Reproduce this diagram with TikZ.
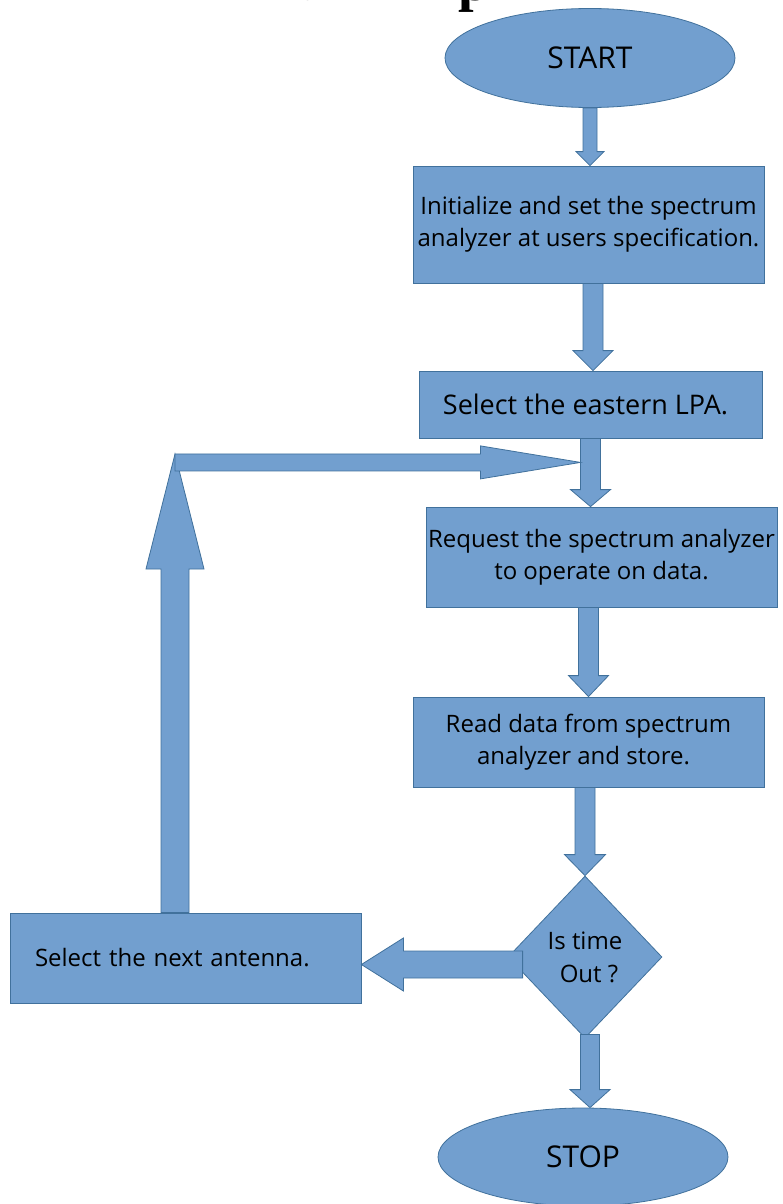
\documentclass[tikz,border=0pt]{standalone}
\usepackage{fontspec}
\setmainfont{Open Sans}
\newfontfamily\headfont{Liberation Serif}
\usepackage{tikz}
\usetikzlibrary{shapes.geometric, calc}
\definecolor{flowFill}{RGB}{114,159,207}
\definecolor{flowLine}{RGB}{65,113,156}
\tikzstyle{flowShape}=[draw=flowLine, fill=flowFill, line width=0.8pt, inner sep=0pt, align=center]
\tikzstyle{flowBox}=[flowShape, rectangle, minimum width=351pt, font=\fontsize{24}{32}\selectfont]
\tikzstyle{flowTerm}=[flowShape, ellipse, minimum width=290pt, minimum height=99pt, font=\fontsize{30}{36}\selectfont]
\tikzstyle{flowTest}=[flowShape, diamond, minimum width=154pt, minimum height=162pt, font=\fontsize{24}{33}\selectfont]
\tikzstyle{flowArrow}=[draw=flowLine, fill=flowFill, line width=0.8pt]
\tikzstyle{headText}=[inner sep=0pt, anchor=base, font=\headfont\bfseries\fontsize{56}{60}\selectfont]

% block arrow: tail, tip, half shaft, half head, head length
\newcommand{\blockArrow}[5]{
  \coordinate (ba tail) at (#1);
  \coordinate (ba tip) at (#2);
  \coordinate (ba base) at ($(ba tip)!#5!(ba tail)$);
  \filldraw[flowArrow] ($(ba tail)!#3!90:(ba tip)$) -- ($(ba base)!#3!90:(ba tip)$)
    -- ($(ba base)!#4!90:(ba tip)$) -- (ba tip) -- ($(ba base)!#4!-90:(ba tip)$)
    -- ($(ba base)!#3!-90:(ba tip)$) -- ($(ba tail)!#3!-90:(ba tip)$) -- cycle;
}

\begin{document}
\begin{tikzpicture}[x=1pt, y=-1pt]
      \useasboundingbox (0,0) rectangle (783,1204);
      \clip (0,0) rectangle (783,1204);

      % heading, mostly off the top edge
      \node[headText] (head y) at (316,-11) {y};
      \node[headText] (head p) at (474,1) {p};

      \node[flowTerm] (start) at (590,58) {START};
      \node[flowBox, minimum height=117pt] (init) at (588.5,224.5)
        {Initialize and set the spectrum\\analyzer at users specification.};
      \node[flowBox, minimum width=343pt, minimum height=67pt,
        font=\fontsize{27}{32}\selectfont] (select) at (590.5,404.5)
        {Select the eastern LPA.\hspace*{10pt}};
      \node[flowBox, minimum height=100pt] (request) at (601.5,557)
        {Request the spectrum analyzer\\to operate on data.};
      \node[flowBox, minimum height=90pt] (read) at (588.5,742)
        {Read data from spectrum\\analyzer and store.\hspace*{10pt}};
      \node[flowTest] (timeout) at (585,957) {Is time\\\hspace*{8pt}Out ?};
      \node[flowBox, minimum height=90pt, text width=301pt, inner xsep=25pt,
        align=left] (next) at (185.5,958) {Select the next antenna.};
      \node[flowTerm, minimum height=98pt] (stop) at (583,1157) {STOP};

      \coordinate (turn) at (175,454);
      \coordinate (merge) at ($(select.south)+(-10,24)$);

      \blockArrow{start.south}{start.south |- init.north}{7pt}{14pt}{14pt}
      \blockArrow{$(init.south)+(4.5,0)$}{$(select.north)+(2.5,0)$}{10pt}{20pt}{20pt}
      \blockArrow{select.south}{select.south |- request.north}{10pt}{20pt}{17pt}
      \blockArrow{read.north |- request.south}{read.north}{10pt}{20pt}{21pt}
      \blockArrow{timeout.north |- read.south}{timeout.north}{10pt}{20.5pt}{21pt}
      \blockArrow{$(timeout.south)+(5,-4)$}{$(stop.north)+(7,0)$}{9.5pt}{20pt}{18pt}
      \blockArrow{$(timeout.west)+(15,7.5)$}{$(next.east)+(0,6.5)$}{13.5pt}{26.5pt}{42pt}
      % loop back to the next measurement
      \blockArrow{turn |- next.north}{turn}{14pt}{29pt}{115pt}
      \blockArrow{turn |- merge}{merge}{8.5pt}{16.5pt}{100pt}
\end{tikzpicture}
\end{document}
